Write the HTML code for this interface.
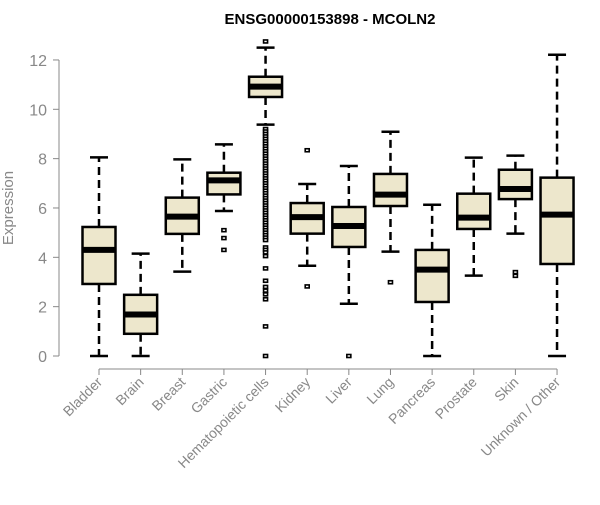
<!DOCTYPE html>
<html><head><meta charset="utf-8"><style>
body{margin:0;background:#fff;}
svg{font-family:"Liberation Sans",Arial,sans-serif;}
</style></head><body>
<svg id="chart" width="600" height="500">
<text x="330" y="24" text-anchor="middle" font-weight="bold" font-size="15">ENSG00000153898 - MCOLN2</text>
<text transform="translate(13,208) rotate(-90)" text-anchor="middle" font-size="15" fill="#888">Expression</text>
<g id="plot"></g>
</svg>
<script>
const categories=["Bladder","Brain","Breast","Gastric","Hematopoietic cells","Kidney","Liver","Lung","Pancreas","Prostate","Skin","Unknown / Other"];
const whiskerLow=[0,0,3.42,5.88,9.38,3.66,2.12,4.23,0,3.26,4.96,0];
const q1=[2.92,0.9,4.95,6.55,10.5,4.96,4.42,6.08,2.19,5.15,6.36,3.73];
const medians=[4.3,1.68,5.65,7.12,10.92,5.63,5.27,6.54,3.5,5.61,6.77,5.73];
const q3=[5.23,2.48,6.42,7.43,11.32,6.2,6.04,7.38,4.3,6.58,7.55,7.23];
const whiskerHigh=[8.05,4.15,7.97,8.58,12.5,6.97,7.7,9.09,6.13,8.04,8.12,12.21];
const outliers=[[],[],[],[5.1,4.78,4.3],
[12.75,9.2,9.1,9.0,8.9,8.8,8.7,8.6,8.5,8.4,8.3,8.2,8.1,8.0,7.9,7.8,7.7,7.6,7.5,7.4,7.3,7.2,7.1,7.0,6.9,6.8,6.7,6.6,6.5,6.4,6.3,6.2,6.1,6.0,5.9,5.8,5.7,5.6,5.5,5.4,5.3,5.2,5.1,5.0,4.9,4.8,4.7,4.4,4.3,4.2,4.05,3.55,3.05,2.8,2.65,2.5,2.3,1.2,0],
[8.34,2.82],[0],[2.99],[],[],[3.4,3.25],[]];
const yTicks=[0,2,4,6,8,10,12];

const NS="http://www.w3.org/2000/svg";
const g=document.getElementById('plot');
const y=v=>356-v*24.67;
const x=i=>99+i*41.64;
function el(t,a){const e=document.createElementNS(NS,t);for(const k in a)e.setAttribute(k,a[k]);g.appendChild(e);return e;}
let ax=el('line',{x1:59,x2:59,y1:y(12),y2:y(0),stroke:'#888'});


yTicks.forEach(t=>{
  const tk=el('line',{x1:53,x2:59,y1:y(t),y2:y(t),stroke:'#888'});
  
  
  const tl=el('text',{x:47,y:y(t)+6,'text-anchor':'end','font-size':16,fill:'#888'});
  tl.textContent=t;
  
  
});
let xa=el('line',{x1:x(0),x2:x(11),y1:369,y2:369,stroke:'#888'});


categories.forEach((c,i)=>{
  const cx=x(i),w=16.5;
  const tk=el('line',{x1:cx,x2:cx,y1:369,y2:375,stroke:'#888'});
  
  
  const tl=el('text',{transform:`translate(${cx+4},${383}) rotate(-45)`,'text-anchor':'end','font-size':14,fill:'#888'});
  tl.textContent=c;
  
  
  const bg=el('g',{});
  
  
  const add=(t,a)=>{const e=document.createElementNS(NS,t);for(const k in a)e.setAttribute(k,a[k]);bg.appendChild(e);return e;};
  add('line',{x1:cx,x2:cx,y1:y(q3[i]),y2:y(whiskerHigh[i]),stroke:'#000','stroke-width':2.5,'stroke-dasharray':'8,5'});
  add('line',{x1:cx,x2:cx,y1:y(q1[i]),y2:y(whiskerLow[i]),stroke:'#000','stroke-width':2.5,'stroke-dasharray':'8,5'});
  add('line',{x1:cx-9,x2:cx+9,y1:y(whiskerHigh[i]),y2:y(whiskerHigh[i]),stroke:'#000','stroke-width':2.5});
  add('line',{x1:cx-9,x2:cx+9,y1:y(whiskerLow[i]),y2:y(whiskerLow[i]),stroke:'#000','stroke-width':2.5});
  add('rect',{x:cx-w,y:y(q3[i]),width:2*w,height:y(q1[i])-y(q3[i]),fill:'#ede7cc',stroke:'#000','stroke-width':2.5});
  add('line',{x1:cx-w,x2:cx+w,y1:y(medians[i]),y2:y(medians[i]),stroke:'#000','stroke-width':6});
  outliers[i].forEach(v=>{
    const p=add('rect',{x:cx-2,y:y(v)-1.5,width:4,height:3,fill:'#fff',stroke:'#000','stroke-width':1.6});
    
    
  });
});
</script>
</body></html>
